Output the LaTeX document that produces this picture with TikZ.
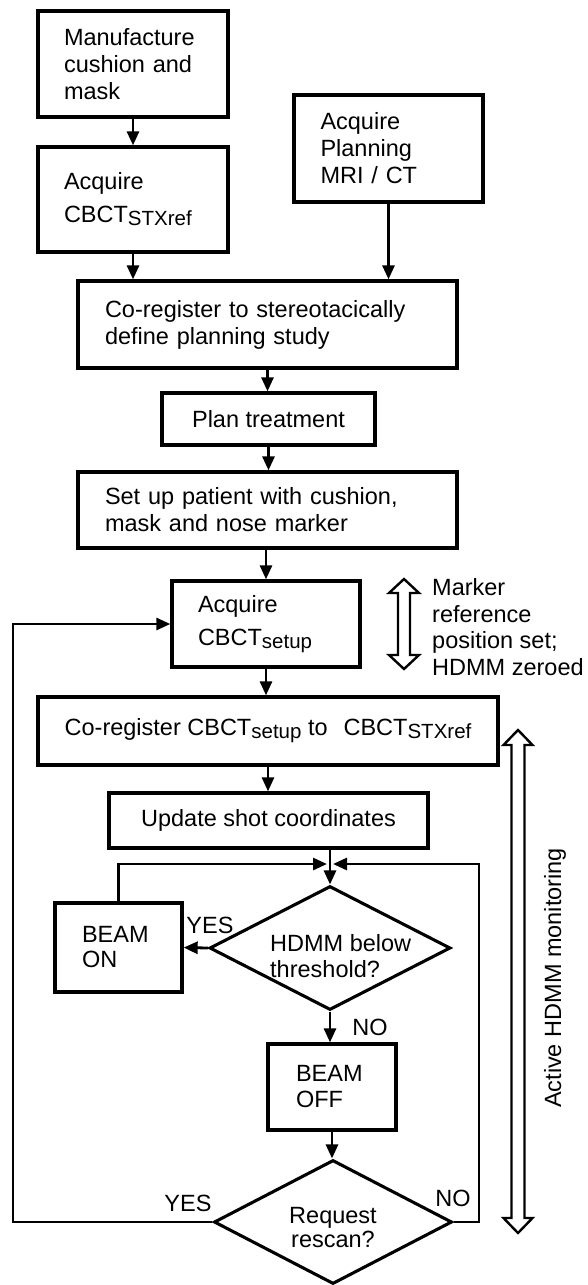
\documentclass[tikz,border=0pt]{standalone}
\usepackage{fontspec}
\setmainfont{Liberation Sans}
\usetikzlibrary{shapes.geometric,arrows.meta}
\newcommand{\sbx}[1]{\raisebox{-3pt}{\fontsize{20.5}{20}\selectfont #1}}
\begin{document}
\begin{tikzpicture}[x=1pt,y=-1pt,
  every node/.style={font=\fontsize{23.5}{27}\selectfont},
  box/.style={draw, line width=3.3pt, rectangle, inner sep=0pt, align=left},
  dia/.style={draw, line width=3.1pt, diamond, inner sep=0pt},
  plain/.style={inner sep=0pt},
  arr/.style={line width=2.8pt, -{Triangle[length=14pt,width=12pt]}},
  hollow/.style={line width=2.4pt, line join=miter, fill=white}]
\useasboundingbox (0,0) rectangle (587,1285);

\node[box, minimum width=190pt, minimum height=106pt, text width=138pt] (b1) at (133,64) {Manufacture\\cushion and\\mask};
\node[box, minimum width=190pt, minimum height=105pt, text width=138pt] (b2) at (133,199.5) {Acquire\\[6pt]CBCT\sbx{STXref}};
\node[box, minimum width=189pt, minimum height=107pt, text width=136pt] (b3) at (388.5,148.5) {Acquire\\Planning\\MRI / CT};
\node[box, minimum width=379pt, minimum height=87pt, text width=325pt] (b4) at (267.5,324.5) {Co-register to stereotacically\\define planning study};
\node[box, minimum width=213pt, minimum height=52pt, align=center] (b5) at (268.5,419) {Plan treatment};
\node[box, minimum width=379pt, minimum height=76pt, text width=325pt] (b6) at (267.5,510) {Set up patient with cushion,\\mask and nose marker};
\node[box, minimum width=188pt, minimum height=86pt, text width=136pt] (b7) at (266,624) {Acquire\\[6pt]CBCT\sbx{setup}};
\node[box, minimum width=460pt, minimum height=68pt, align=center] (b8) at (268,731) {Co-register CBCT\sbx{setup} to\hspace{0.4em} CBCT\sbx{STXref}};
\node[box, minimum width=319pt, minimum height=55pt, align=center] (b9) at (268.5,820.5) {Update shot coordinates};
\node[dia, minimum width=241pt, minimum height=124pt] (d1) at (330,948) {};
\node[plain, anchor=west, align=left, font=\fontsize{23.5}{26}\selectfont] (d1t) at (270,956) {HDMM below\\threshold?};
\node[box, minimum width=127pt, minimum height=89pt, text width=73pt, font=\fontsize{23.5}{25}\selectfont] (bon) at (118.5,947.5) {BEAM\\ON};
\node[box, minimum width=128pt, minimum height=86pt, text width=72pt, font=\fontsize{23.5}{26}\selectfont] (boff) at (332,1087) {BEAM\\OFF};
\node[dia, minimum width=238pt, minimum height=124pt] (d2) at (333,1222) {};
\node[plain, align=center, font=\fontsize{23.5}{24}\selectfont] (d2t) at (333,1228) {Request\\rescan?};

\node[plain] (yes1) at (210,925) {YES};
\node[plain] (no1) at (370,1027) {NO};
\node[plain] (yes2) at (188,1203) {YES};
\node[plain] (no2) at (453,1198) {NO};

\node[plain, anchor=west, align=left, font=\fontsize{23.5}{26.5}\selectfont] (mk) at (432,627) {Marker\\reference\\position set;\\HDMM zeroed};
\node[plain, rotate=90] (act) at (555,978) {Active HDMM monitoring};

\coordinate (J) at (330,864);
\coordinate (leftx) at (13,0);
\coordinate (rightx) at (479,0);

\draw[arr] (b1) -- (b2);
\draw[arr] (b2.south) -- (b2.south |- b4.north);
\draw[arr] (b3.south) -- (b3.south |- b4.north);
\draw[arr] (b4.south) -- (b4.south |- b5.north);
\draw[arr] (b5.south) -- (b5.south |- b6.north);
\draw[arr] (b6.south -| b7.north) -- (b7.north);
\draw[arr] (b7.south) -- (b7.south |- b8.north);
\draw[arr] (b8.south) -- (b8.south |- b9.north);
\draw[arr] (b9.south -| J) -- (d1.north);
\draw[arr] (bon.north) |- ([xshift=-3pt]J);
\draw[arr] (d1.west) -- (bon.east);
\draw[arr] (d1.south) -- (d1.south |- boff.north);
\draw[arr] (boff.south) -- (boff.south |- d2.north);
\draw[arr] (d2.west) -- (d2.west -| leftx) |- (b7.west);
\draw[arr] (d2.east) -- (d2.east -| rightx) |- ([xshift=3pt]J);

% hollow double arrows
\draw[hollow] (404,579) -- (419,593) -- (410,593) -- (410,655) -- (419,655) -- (404,669) -- (389,655) -- (398,655) -- (398,593) -- (389,593) -- cycle;
\draw[hollow] (518,730) -- (532.5,745) -- (524.5,745) -- (524.5,1218) -- (532.5,1218) -- (518,1233) -- (503.5,1218) -- (511.5,1218) -- (511.5,745) -- (503.5,745) -- cycle;
\end{tikzpicture}
\end{document}
